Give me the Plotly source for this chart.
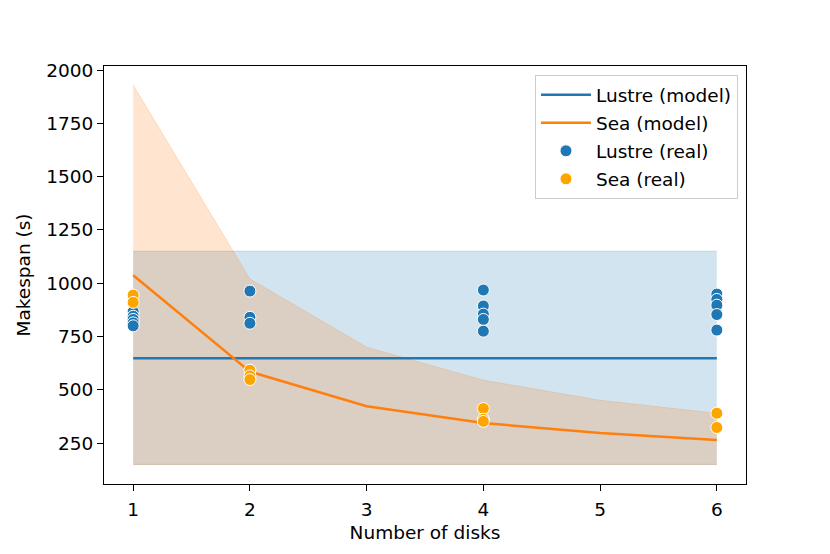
import plotly.graph_objects as go

disks = [1, 2, 3, 4, 5, 6]
lustre_model = [648, 648, 648, 648, 648, 648]
lustre_lower = [150, 150, 150, 150, 150, 150]
lustre_upper = [1150, 1150, 1150, 1150, 1150, 1150]
sea_model = [1037, 585, 423, 344, 297, 265]
sea_lower = [150, 150, 150, 150, 150, 150]
sea_upper = [1930, 1020, 700, 545, 451, 390]

lustre_real_x = [1, 1, 1, 1, 1, 2, 2, 2, 4, 4, 4, 4, 4, 6, 6, 6, 6, 6]
lustre_real_y = [866, 845, 830, 814, 800, 963, 840, 812, 968, 893, 855, 830, 775, 949, 924, 897, 853, 780]
sea_real_x = [1, 1, 2, 2, 2, 4, 4, 4, 6, 6]
sea_real_y = [944, 910, 592, 565, 548, 412, 362, 352, 390, 323]

BLUE = "#1f77b4"
ORANGE = "#ff7f0e"
FS = 18.5

fig = go.Figure()

# Lustre band
fig.add_trace(go.Scatter(x=disks, y=lustre_lower, mode="lines",
                         line=dict(color="rgba(31,119,180,0.2)", width=1),
                         showlegend=False, hoverinfo="skip"))
fig.add_trace(go.Scatter(x=disks, y=lustre_upper, mode="lines", fill="tonexty",
                         fillcolor="rgba(31,119,180,0.2)",
                         line=dict(color="rgba(31,119,180,0.2)", width=1),
                         showlegend=False, hoverinfo="skip"))
# Sea band
fig.add_trace(go.Scatter(x=disks, y=sea_lower, mode="lines",
                         line=dict(color="rgba(255,127,14,0.2)", width=1),
                         showlegend=False, hoverinfo="skip"))
fig.add_trace(go.Scatter(x=disks, y=sea_upper, mode="lines", fill="tonexty",
                         fillcolor="rgba(255,127,14,0.2)",
                         line=dict(color="rgba(255,127,14,0.2)", width=1),
                         showlegend=False, hoverinfo="skip"))

fig.add_trace(go.Scatter(x=disks, y=lustre_model, mode="lines", name="Lustre (model)",
                         line=dict(color=BLUE, width=2.5), legendgroup="a"))
fig.add_trace(go.Scatter(x=disks, y=sea_model, mode="lines", name="Sea (model)",
                         line=dict(color=ORANGE, width=2.5), legendgroup="b"))
fig.add_trace(go.Scatter(x=lustre_real_x, y=lustre_real_y, mode="markers", name="Lustre (real)",
                         marker=dict(color=BLUE, size=12, line=dict(color="white", width=1)),
                         legendgroup="c"))
fig.add_trace(go.Scatter(x=sea_real_x, y=sea_real_y, mode="markers", name="Sea (real)",
                         marker=dict(color="orange", size=12, line=dict(color="white", width=1)),
                         legendgroup="d"))

axis_common = dict(showline=True, linecolor="black", linewidth=1, mirror=True,
                   ticks="outside", ticklen=6, tickcolor="black", tickwidth=1,
                   showgrid=False, zeroline=False,
                   tickfont=dict(size=FS, color="black"))

fig.update_layout(
    width=830, height=554,
    margin=dict(l=96, r=92, t=58, b=78),
    paper_bgcolor="white", plot_bgcolor="white",
    font=dict(family="DejaVu Sans", size=FS, color="black"),
    xaxis=dict(range=[0.75, 6.25], tickvals=disks, ticklabelstandoff=3,
               title=dict(text="Number of disks", font=dict(size=FS), standoff=6),
               **axis_common),
    yaxis=dict(range=[58, 2019], tickvals=[250, 500, 750, 1000, 1250, 1500, 1750, 2000],
               title=dict(text="Makespan (s)", font=dict(size=FS), standoff=10),
               **axis_common),
    legend=dict(x=0.9875, y=0.978, xanchor="right", yanchor="top",
                bgcolor="rgba(255,255,255,0.8)", bordercolor="#cccccc", borderwidth=1,
                font=dict(size=FS), tracegroupgap=1, traceorder="grouped",
                itemwidth=50),
)

fig.write_html("out.html")
